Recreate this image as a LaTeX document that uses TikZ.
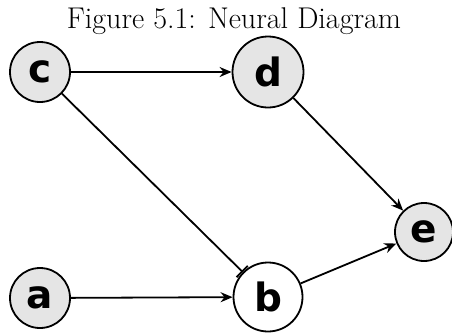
\documentclass[tikz,border=0pt]{standalone}
\usepackage{fontspec}
\newfontfamily\nodefont{DejaVu Sans}
\usetikzlibrary{arrows.meta}
\begin{document}
\begin{tikzpicture}[x=1pt,y=-1pt,
  neuron/.style={circle,draw=black,line width=1.8pt,fill=black!10,inner sep=0pt,
    minimum size=60pt,font=\fontsize{39}{46}\selectfont\nodefont\bfseries},
  bigneuron/.style={neuron,minimum size=71pt},
  conn/.style={line width=1.8pt,-{Stealth[length=12pt,width=10pt]}},
  inhib/.style={line width=1.8pt,-{Bar[width=16pt,line width=1.8pt]}}]
\useasboundingbox (0,0) rectangle (452,335);
\node[anchor=base,font=\fontsize{30}{34}\selectfont] (title) at (234,28) {Figure 5.1: Neural Diagram};
\node[neuron] (c) at (40,72) {c};
\node[bigneuron] (d) at (268,72) {d};
\node[neuron,minimum size=58pt] (e) at (424,232) {e};
\node[neuron] (a) at (40,298) {a};
\node[bigneuron,minimum size=69pt,fill=white] (b) at (268,297) {b};
\draw[conn] (c) -- (d);
\draw[conn] (d) -- (e);
\draw[conn] (a) -- (b);
\draw[conn] (b) -- (e);
\draw[inhib] (c) -- (b);
\end{tikzpicture}
\end{document}
